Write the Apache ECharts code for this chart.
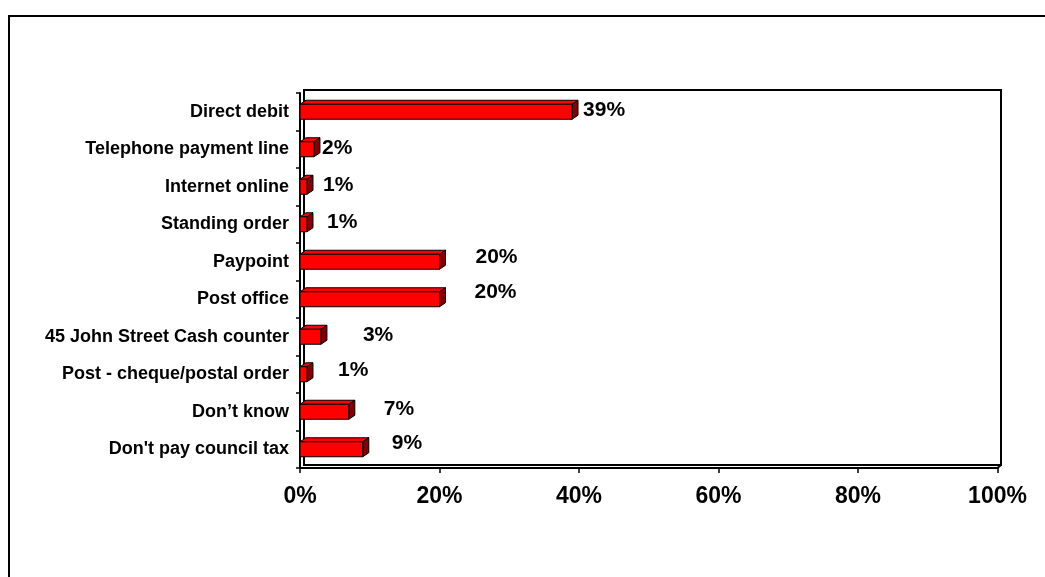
<!DOCTYPE html>
<html>
<head>
<meta charset="utf-8">
<script src="https://cdn.jsdelivr.net/npm/echarts@6/dist/echarts.min.js"></script>
<style>
  html, body { margin: 0; padding: 0; background: #fff; }
  #chart { width: 1045px; height: 577px; }
</style>
</head>
<body>
<div id="chart"></div>
<script>
// Payment methods for council tax (share of respondents, %)
const categories = [
  'Direct debit',
  'Telephone payment line',
  'Internet online',
  'Standing order',
  'Paypoint',
  'Post office',
  '45 John Street Cash counter',
  'Post - cheque/postal order',
  'Don\u2019t know',
  'Don\'t pay council tax'
];
const values = [39, 2, 1, 1, 20, 20, 3, 1, 7, 9];
const xTickValues = [0, 20, 40, 60, 80, 100];

// Hand-placed label nudges [dx, dy] from each bar's end
const labelNudge = [
  [5, -2], [2, -1], [10, -2], [14, -2], [30, -5],
  [29, -7], [36, -2], [25, -4], [29, -3], [23, -6]
];

const FONT = '"Liberation Sans", Arial, Helvetica, sans-serif';
const DEPTH_X = 6, DEPTH_Y = -4;

function renderBar(params, api) {
  const i = params.dataIndex;
  const v = api.value(0);
  const p0 = api.coord([0, i]);
  const p1 = api.coord([v, i]);
  const band = api.size([0, 1])[1];
  const h = band * 0.4;
  const x0 = p0[0], x1 = p1[0];
  const y0 = p0[1] - h / 2, y1 = p0[1] + h / 2;
  const edge = { stroke: '#000', lineWidth: 1 };
  return {
    type: 'group',
    children: [
      { type: 'polygon',
        shape: { points: [[x0, y0], [x0 + DEPTH_X, y0 + DEPTH_Y], [x1 + DEPTH_X, y0 + DEPTH_Y], [x1, y0]] },
        style: Object.assign({ fill: '#FF0000' }, edge) },
      { type: 'polygon',
        shape: { points: [[x1, y0], [x1 + DEPTH_X, y0 + DEPTH_Y], [x1 + DEPTH_X, y1 + DEPTH_Y], [x1, y1]] },
        style: Object.assign({ fill: '#800000' }, edge) },
      { type: 'rect',
        shape: { x: x0, y: y0, width: x1 - x0, height: h },
        style: Object.assign({ fill: '#FF0000' }, edge) },
      { type: 'text',
        x: x1 + DEPTH_X + labelNudge[i][0],
        y: p0[1] + labelNudge[i][1],
        style: {
          text: v + '%',
          fill: '#000',
          font: 'bold 21px ' + FONT,
          textAlign: 'left',
          textVerticalAlign: 'middle'
        } }
    ]
  };
}

const chart = echarts.init(document.getElementById('chart'), null, { renderer: 'canvas' });

chart.setOption({
  animation: false,
  backgroundColor: '#fff',
  graphic: [
    { type: 'rect', z: -10, shape: { x: 9, y: 16, width: 1100, height: 700 },
      style: { fill: 'none', stroke: '#000', lineWidth: 2 } },
    { type: 'line', z: 10, shape: { x1: 997.5, y1: 468, x2: 1001, y2: 465 },
      style: { stroke: '#000', lineWidth: 2 } }
  ],
  grid: [
    { left: 300, right: 47.5, top: 93, bottom: 109 },
    { left: 304, right: 44, top: 90, bottom: 112, show: true,
      borderColor: '#000', borderWidth: 2, backgroundColor: 'transparent' }
  ],
  xAxis: [
    {
      gridIndex: 0, type: 'value', min: 0, max: 100, interval: 20,
      axisLine: { show: true, lineStyle: { color: '#000', width: 2 } },
      axisTick: { show: true, length: 5, lineStyle: { color: '#000', width: 1.5 } },
      splitLine: { show: false },
      axisLabel: {
        margin: 17, color: '#000', fontFamily: FONT, fontWeight: 'bold', fontSize: 23,
        formatter: function (v) { return xTickValues.indexOf(v) >= 0 ? v + '%' : ''; }
      }
    },
    { gridIndex: 1, type: 'value', min: 0, max: 100, show: false }
  ],
  yAxis: [
    {
      gridIndex: 0, type: 'category', data: categories, inverse: true,
      axisLine: { show: true, lineStyle: { color: '#000', width: 2 } },
      axisTick: { show: true, length: 4, lineStyle: { color: '#000', width: 1.5 } },
      axisLabel: {
        margin: 11, color: '#000', fontFamily: FONT, fontWeight: 'bold', fontSize: 18
      }
    },
    { gridIndex: 1, type: 'category', data: categories, inverse: true, show: false }
  ],
  series: [
    {
      type: 'custom',
      xAxisIndex: 0, yAxisIndex: 0,
      renderItem: renderBar,
      encode: { x: 0, y: 1 },
      data: values.map(function (v, i) { return [v, i]; }),
      clip: false
    }
  ]
});
</script>
</body>
</html>
